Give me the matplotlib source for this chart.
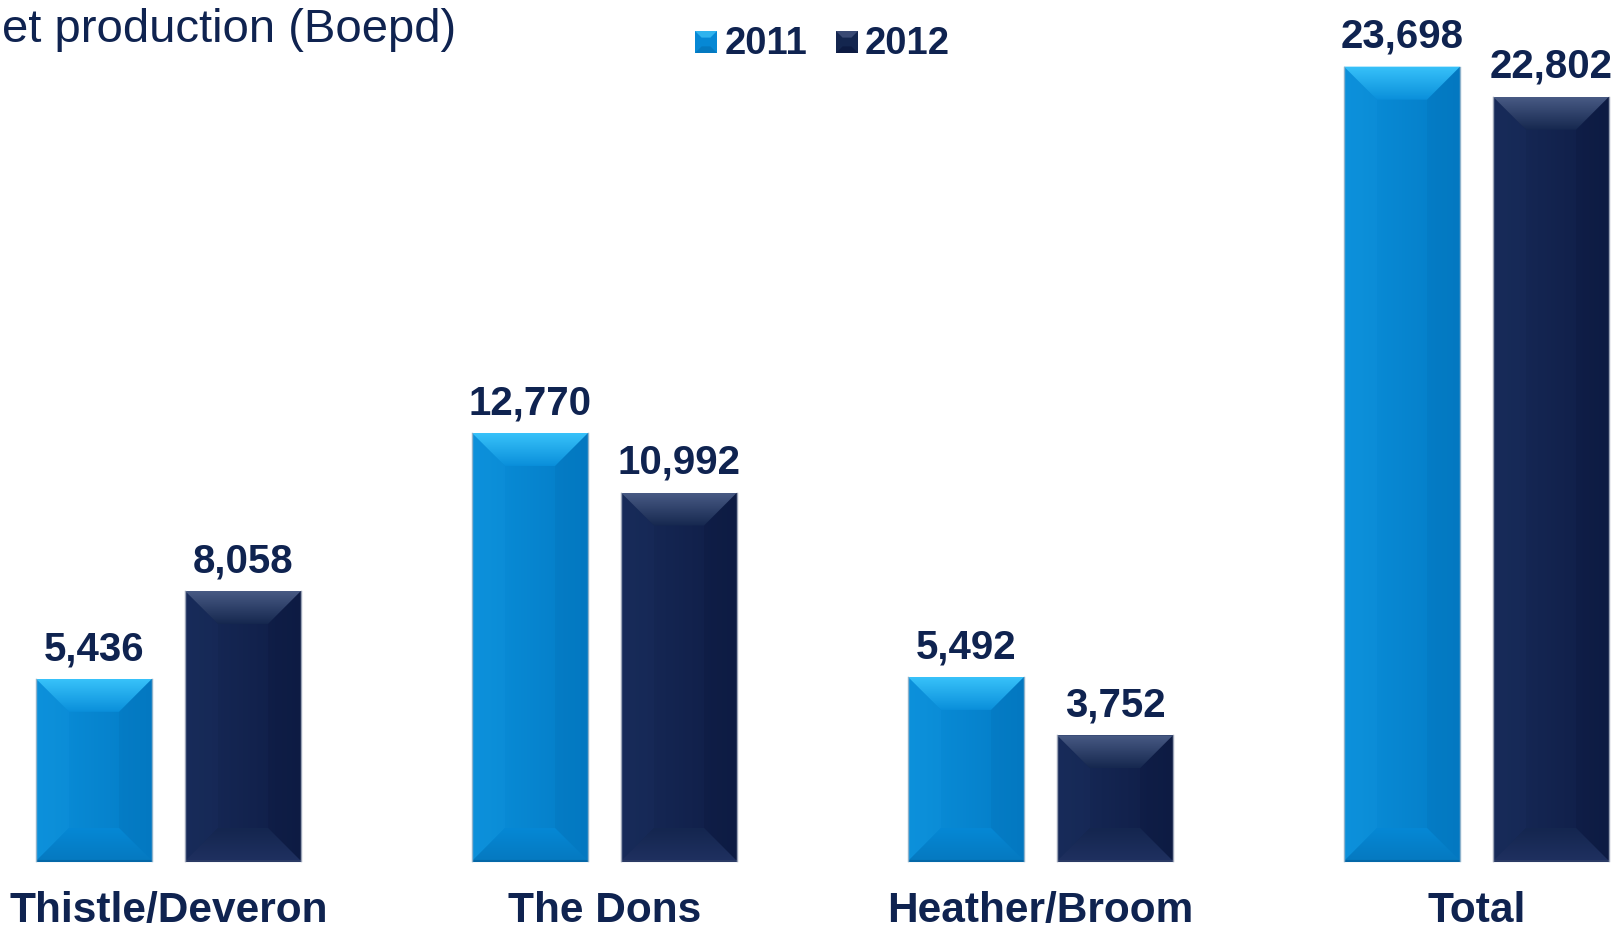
import numpy as np
import matplotlib
matplotlib.use("Agg")
import matplotlib.pyplot as plt
from matplotlib.patches import Polygon, Rectangle
from matplotlib.colors import to_rgb

# Net production by field, barrels of oil equivalent per day
categories = ["Thistle/Deveron", "The Dons", "Heather/Broom", "Total"]
prod_2011 = [5436, 12770, 5492, 23698]
prod_2012 = [8058, 10992, 3752, 22802]
series_labels = ["2011", "2012"]

TEXT = "#0f2350"
LIGHT = "#0688d5"
DARK = "#14264f"

W, H = 1613, 931
fig = plt.figure(figsize=(W / 100, H / 100), dpi=100)
fig.patch.set_facecolor("white")
ax = fig.add_axes([0, 0, 1, 1])
ax.set_axis_off()

group_px = 436.0
first_px = 168.5
zero_px = 70.0
k = 0.03352  # pixels per boepd
ax.set_xlim(-first_px / group_px, (W - first_px) / group_px)
ax.set_ylim(-zero_px / k, (H - zero_px) / k)

width = 116 / group_px
offset = 74.5 / group_px
bev_x = 33 / group_px
bev_y = 33 / k
x = np.arange(len(categories))


def gradient_fill(ax, poly_pts, c_start, c_end, vertical=True, z=3):
    poly = Polygon(poly_pts, closed=True, facecolor="none", edgecolor="none")
    ax.add_patch(poly)
    xs = [p[0] for p in poly_pts]
    ys = [p[1] for p in poly_pts]
    t = np.linspace(0, 1, 64)
    c0 = np.array(to_rgb(c_start))
    c1 = np.array(to_rgb(c_end))
    cols = c0[None, :] * (1 - t[:, None]) + c1[None, :] * t[:, None]
    img = cols[:, None, :] if vertical else cols[None, :, :]
    im = ax.imshow(img, extent=(min(xs), max(xs), min(ys), max(ys)),
                   origin="upper", aspect="auto", interpolation="bilinear",
                   zorder=z)
    im.set_clip_path(poly)


def bevel(ax, bar, style):
    x0 = bar.get_x()
    x1 = x0 + bar.get_width()
    h = bar.get_height()
    dy = min(bev_y, h / 2)
    # face: soft left-to-right shading
    gradient_fill(ax, [(x0, 0), (x1, 0), (x1, h), (x0, h)],
                  style["left"], style["right"], vertical=False, z=2.2)
    # side facets
    ax.add_patch(Polygon([(x0, 0), (x0, h), (x0 + bev_x, h - dy), (x0 + bev_x, dy)],
                         closed=True, facecolor=style["lside"], edgecolor="none",
                         alpha=0.25, zorder=2.4))
    ax.add_patch(Polygon([(x1, 0), (x1, h), (x1 - bev_x, h - dy), (x1 - bev_x, dy)],
                         closed=True, facecolor=style["rside"], edgecolor="none",
                         alpha=0.25, zorder=2.4))
    # top facet: bright rim fading into the face
    gradient_fill(ax, [(x0, h), (x1, h), (x1 - bev_x, h - dy), (x0 + bev_x, h - dy)],
                  style["top"], style["top_end"], z=3)
    # bottom facet
    gradient_fill(ax, [(x0, 0), (x1, 0), (x1 - bev_x, dy), (x0 + bev_x, dy)],
                  style["bot_end"], style["bot"], z=2.6)
    ax.plot([x0, x1], [0, 0], color=style["base_line"], lw=1.5, zorder=4,
            solid_capstyle="butt")
    ax.plot([x0, x0], [0, h], color=style["edge"], lw=1.0, zorder=4)
    ax.plot([x1, x1], [0, h], color=style["edge"], lw=1.0, zorder=4)


light_style = dict(left="#0a8fda", right="#047cc6", lside="#1598e0",
                   rside="#036fb4", top="#38c2fa", top_end="#0a8fda",
                   bot="#0579c0", bot_end="#0688d5", base_line="#0468a8",
                   edge="#8fb3cc")
dark_style = dict(left="#172a58", right="#0f1d46", lside="#1c3060",
                  rside="#0b173c", top="#485a84", top_end="#16284f",
                  bot="#1f3060", bot_end="#14264f", base_line="#2a3a64",
                  edge="#9aa3b6")

bars1 = ax.bar(x - offset, prod_2011, width, color=LIGHT, zorder=2)
bars2 = ax.bar(x + offset, prod_2012, width, color=DARK, zorder=2)

for b in bars1:
    bevel(ax, b, light_style)
for b in bars2:
    bevel(ax, b, dark_style)

for bars, vals in ((bars1, prod_2011), (bars2, prod_2012)):
    for b, v in zip(bars, vals):
        ax.annotate(f"{v:,}", (b.get_x() + b.get_width() / 2, v),
                    xytext=(0, 13.5), textcoords="offset points",
                    ha="center", va="baseline", fontsize=29, fontweight="bold",
                    color=TEXT, family="Liberation Sans", zorder=5)

for xi, name in zip(x, categories):
    ax.text(xi, 9 / H, name, transform=ax.get_xaxis_transform(),
            ha="center", va="baseline", fontsize=30.5, fontweight="bold",
            color=TEXT, family="Liberation Sans")

# title
fig.text(2 / W, 1 - 42 / H, "et production (Boepd)", ha="left", va="baseline",
         fontsize=34, color=TEXT, family="Liberation Sans")


# legend with bevelled swatches
def swatch(px_x, px_y, size, base, hi, lo):
    x0 = px_x / W
    y0 = 1 - (px_y + size) / H
    sw = size / W
    sh = size / H
    bx, by = sw * 0.3, sh * 0.3
    fig.patches.append(Rectangle((x0, y0), sw, sh, transform=fig.transFigure,
                                 facecolor=base, edgecolor="none"))
    fig.patches.append(Polygon([(x0, y0 + sh), (x0 + sw, y0 + sh),
                                (x0 + sw - bx, y0 + sh - by), (x0 + bx, y0 + sh - by)],
                               closed=True, transform=fig.transFigure,
                               facecolor=hi, edgecolor="none"))
    fig.patches.append(Polygon([(x0, y0), (x0 + sw, y0),
                                (x0 + sw - bx, y0 + by), (x0 + bx, y0 + by)],
                               closed=True, transform=fig.transFigure,
                               facecolor=lo, edgecolor="none"))


swatch(695, 31, 22, LIGHT, "#2fb3ee", "#0479c0")
swatch(836, 31, 22, DARK, "#3a4a74", "#0d1b42")
fig.text(725 / W, 1 - 54 / H, series_labels[0], ha="left", va="baseline",
         fontsize=27.5, fontweight="bold", color=TEXT, family="Liberation Sans")
fig.text(865 / W, 1 - 54 / H, series_labels[1], ha="left", va="baseline",
         fontsize=27.5, fontweight="bold", color=TEXT, family="Liberation Sans")

fig.savefig("out.png", dpi=100, facecolor="white")
